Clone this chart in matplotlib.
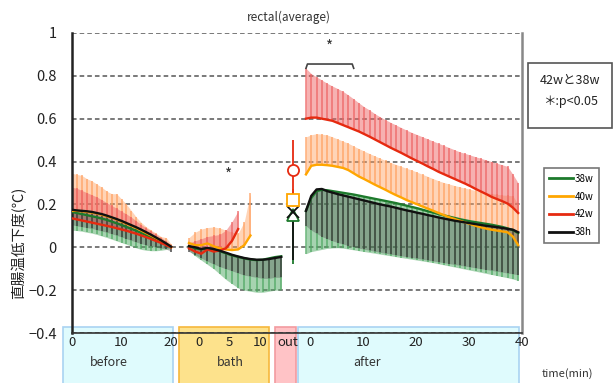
import numpy as np
import matplotlib
matplotlib.use('Agg')
import matplotlib.pyplot as plt
import matplotlib.transforms as mtransforms
from matplotlib.patches import Rectangle
from matplotlib.lines import Line2D

plt.rcParams['font.family'] = ['Noto Sans CJK JP', 'DejaVu Sans']

# minutes within each phase
t_before = list(range(0, 21))
t_bath = list(range(0, 16))
t_after = list(range(0, 41))

# ---- before bath (mean, end of error bar) ----
before_38w = [0.165, 0.16, 0.155, 0.15, 0.145, 0.14, 0.134, 0.128, 0.12, 0.112, 0.104,
              0.095, 0.086, 0.077, 0.067, 0.057, 0.047, 0.036, 0.025, 0.013, 0.0]
before_38w_err = [0.08, 0.078, 0.075, 0.07, 0.066, 0.06, 0.053, 0.046, 0.038, 0.03, 0.022,
                  0.014, 0.005, -0.003, -0.01, -0.014, -0.016, -0.016, -0.014, -0.01, -0.005]
before_40w = [0.17, 0.17, 0.168, 0.165, 0.162, 0.158, 0.152, 0.145, 0.138, 0.13, 0.12,
              0.11, 0.1, 0.09, 0.078, 0.066, 0.054, 0.042, 0.03, 0.016, 0.0]
before_40w_err = [0.345, 0.34, 0.335, 0.32, 0.31, 0.295, 0.28, 0.262, 0.25, 0.25, 0.225,
                  0.2, 0.17, 0.14, 0.115, 0.095, 0.08, 0.065, 0.05, 0.045, 0.015]
before_42w = [0.135, 0.13, 0.125, 0.12, 0.115, 0.11, 0.105, 0.1, 0.095, 0.089, 0.083,
              0.077, 0.07, 0.063, 0.055, 0.047, 0.038, 0.029, 0.02, 0.01, 0.0]
before_42w_err = [0.28, 0.275, 0.265, 0.255, 0.245, 0.235, 0.222, 0.208, 0.195, 0.182, 0.168,
                  0.155, 0.14, 0.123, 0.105, 0.09, 0.075, 0.06, 0.045, 0.03, 0.01]
before_38h = [0.175, 0.172, 0.17, 0.168, 0.165, 0.16, 0.155, 0.148, 0.14, 0.132, 0.123,
              0.113, 0.103, 0.093, 0.082, 0.07, 0.058, 0.045, 0.032, 0.018, 0.003]
before_38h_err = [0.105, 0.1, 0.096, 0.092, 0.088, 0.082, 0.076, 0.07, 0.063, 0.056, 0.048,
                  0.04, 0.032, 0.024, 0.017, 0.01, 0.005, 0.0, -0.004, -0.008, -0.02]

# ---- bath ----
bath_38w = [0.005, -0.005, -0.01, -0.005, -0.01, -0.018, -0.028, -0.038, -0.045, -0.052,
            -0.057, -0.06, -0.058, -0.052, -0.046, -0.042]
bath_38w_err = [-0.015, -0.04, -0.06, -0.08, -0.1, -0.125, -0.15, -0.17, -0.19, -0.2,
                -0.205, -0.21, -0.21, -0.205, -0.2, -0.2]
bath_40w = [0.02, 0.01, 0.01, 0.018, 0.005, -0.005, -0.01, -0.013, -0.01, 0.01, 0.055]
bath_40w_err = [0.045, 0.07, 0.085, 0.092, 0.095, 0.09, 0.08, 0.07, 0.065, 0.12, 0.255]
bath_42w = [-0.005, -0.02, -0.03, -0.01, -0.02, -0.015, -0.005, 0.03, 0.085]
bath_42w_err = [0.02, 0.03, 0.04, 0.05, 0.055, 0.06, 0.08, 0.12, 0.17]
bath_38h = [0.005, 0.0, -0.008, -0.003, -0.008, -0.016, -0.025, -0.035, -0.043, -0.05,
            -0.055, -0.058, -0.058, -0.055, -0.05, -0.045]
bath_38h_err = [-0.02, -0.035, -0.05, -0.065, -0.078, -0.09, -0.1, -0.11, -0.12, -0.13,
                -0.135, -0.14, -0.145, -0.145, -0.14, -0.14]

# ---- out of bath (single point) ----
out_mean = {'38w': 0.15, '40w': 0.22, '42w': 0.36, '38h': 0.165}
out_err_lo = {'38w': -0.08, '40w': 0.19, '42w': 0.22, '38h': -0.06}
out_err_hi = {'38w': 0.15, '40w': 0.27, '42w': 0.50, '38h': 0.165}

# ---- after bath ----
after_38w = [0.17, 0.23, 0.262, 0.268, 0.266, 0.262, 0.258, 0.254, 0.25, 0.246, 0.241,
             0.236, 0.231, 0.226, 0.221, 0.216, 0.211, 0.206, 0.2, 0.194, 0.188,
             0.182, 0.175, 0.168, 0.162, 0.155, 0.149, 0.143, 0.137, 0.131, 0.126,
             0.121, 0.117, 0.113, 0.109, 0.105, 0.1, 0.095, 0.088, 0.08, 0.066]
after_38w_err = [-0.03, -0.02, -0.015, -0.01, -0.005, -0.003, -0.002, -0.004, -0.008, -0.012,
                 -0.016, -0.02, -0.024, -0.028, -0.032, -0.036, -0.04, -0.044, -0.048, -0.052,
                 -0.056, -0.06, -0.064, -0.068, -0.072, -0.077, -0.082, -0.087, -0.092, -0.097,
                 -0.102, -0.107, -0.112, -0.117, -0.122, -0.127, -0.132, -0.137, -0.142, -0.148,
                 -0.155]
after_40w = [0.34, 0.38, 0.385, 0.385, 0.383, 0.38, 0.375, 0.37, 0.36, 0.345, 0.33,
             0.318, 0.305, 0.292, 0.28, 0.268, 0.255, 0.243, 0.232, 0.22, 0.21,
             0.2, 0.19, 0.18, 0.17, 0.16, 0.15, 0.14, 0.132, 0.124, 0.116,
             0.108, 0.1, 0.093, 0.087, 0.082, 0.078, 0.074, 0.07, 0.05, 0.01]
after_40w_err = [0.515, 0.525, 0.53, 0.528, 0.524, 0.515, 0.505, 0.495, 0.485, 0.472, 0.46,
                 0.448, 0.437, 0.426, 0.415, 0.405, 0.395, 0.386, 0.377, 0.368, 0.36,
                 0.35, 0.34, 0.33, 0.32, 0.31, 0.302, 0.295, 0.288, 0.282, 0.276,
                 0.27, 0.265, 0.26, 0.255, 0.25, 0.247, 0.244, 0.242, 0.24, 0.2]
after_42w = [0.60, 0.605, 0.605, 0.60, 0.595, 0.59, 0.58, 0.57, 0.56, 0.55, 0.54,
             0.528, 0.516, 0.503, 0.49, 0.477, 0.464, 0.452, 0.44, 0.427, 0.414,
             0.402, 0.39, 0.377, 0.365, 0.352, 0.341, 0.33, 0.319, 0.308, 0.297,
             0.285, 0.272, 0.26, 0.248, 0.235, 0.225, 0.215, 0.204, 0.185, 0.16]
after_42w_err = [0.835, 0.81, 0.795, 0.78, 0.765, 0.752, 0.74, 0.727, 0.71, 0.692, 0.673,
                 0.655, 0.64, 0.623, 0.608, 0.595, 0.582, 0.57, 0.558, 0.546, 0.535,
                 0.525, 0.515, 0.505, 0.495, 0.485, 0.475, 0.465, 0.455, 0.445, 0.438,
                 0.43, 0.422, 0.415, 0.407, 0.4, 0.392, 0.385, 0.377, 0.34, 0.3]
after_38h = [0.17, 0.24, 0.27, 0.272, 0.262, 0.255, 0.248, 0.242, 0.236, 0.23, 0.224,
             0.218, 0.212, 0.206, 0.2, 0.195, 0.19, 0.184, 0.178, 0.172, 0.167,
             0.161, 0.156, 0.15, 0.145, 0.139, 0.134, 0.129, 0.124, 0.12, 0.116,
             0.112, 0.108, 0.104, 0.1, 0.097, 0.094, 0.09, 0.086, 0.082, 0.07]
after_38h_err = [0.1, 0.08, 0.065, 0.05, 0.04, 0.03, 0.022, 0.015, 0.008, 0.002, -0.004,
                 -0.009, -0.014, -0.019, -0.024, -0.028, -0.032, -0.036, -0.04, -0.044, -0.048,
                 -0.052, -0.056, -0.06, -0.064, -0.068, -0.072, -0.076, -0.08, -0.084, -0.088,
                 -0.092, -0.096, -0.1, -0.104, -0.108, -0.112, -0.116, -0.12, -0.124, -0.128]

series_names = ['38w', '40w', '42w', '38h']
line_colors = {'38w': '#1d7a2c', '40w': '#ffa600', '42w': '#e62a10', '38h': '#111111'}
band_colors = {'38w': '#4fa862', '40w': '#ffa060', '42w': '#ee6464', '38h': '#3a3a3a'}
band_alpha = {'38w': 0.5, '40w': 0.45, '42w': 0.5, '38h': 0.3}

# phase -> (x offset, x units per minute) on a shared axis
segments = {'before': (0.0, 1.0), 'bath': (23.6, 1.24), 'after': (47.2, 1.07)}
out_x = 44.6

before_ticks = [0, 10, 20]
bath_ticks = [0, 5, 10]
after_ticks = [0, 10, 20, 30, 40]


def seg_x(phase, t):
    off, scale = segments[phase]
    return off + scale * np.asarray(t, dtype=float)


def draw_phase(ax, phase, t_all, data):
    # error bars first, then mean lines on top
    for name in series_names:
        mean, err = data[name]
        x = seg_x(phase, t_all[:len(mean)])
        ax.fill_between(x, mean, err, color=band_colors[name], alpha=band_alpha[name], lw=0, zorder=2)
        ax.vlines(x, mean, err, color=band_colors[name], lw=1.1, alpha=0.85, zorder=2)
    for name in series_names:
        mean, _ = data[name]
        x = seg_x(phase, t_all[:len(mean)])
        ax.plot(x, mean, color=line_colors[name], lw=1.7, zorder=3)


fig = plt.figure(figsize=(6.15, 3.83), dpi=100)
ax = fig.add_axes([0.117, 0.1305, 0.732, 0.7835])

draw_phase(ax, 'before', t_before, {'38w': (before_38w, before_38w_err),
                                    '40w': (before_40w, before_40w_err),
                                    '42w': (before_42w, before_42w_err),
                                    '38h': (before_38h, before_38h_err)})
draw_phase(ax, 'bath', t_bath, {'38w': (bath_38w, bath_38w_err),
                                '40w': (bath_40w, bath_40w_err),
                                '42w': (bath_42w, bath_42w_err),
                                '38h': (bath_38h, bath_38h_err)})
draw_phase(ax, 'after', t_after, {'38w': (after_38w, after_38w_err),
                                  '40w': (after_40w, after_40w_err),
                                  '42w': (after_42w, after_42w_err),
                                  '38h': (after_38h, after_38h_err)})

# out-of-bath points
markers = {'38w': '^', '40w': 's', '42w': 'o', '38h': 'x'}
for name in ['38w', '38h', '40w', '42w']:
    ax.vlines(out_x, out_err_lo[name], out_err_hi[name], color=line_colors[name], lw=1.3, zorder=4)
for name in ['38w', '38h', '40w', '42w']:
    ax.plot(out_x, out_mean[name], marker=markers[name], ms=8, mfc='white' if name != '38h' else 'none',
            mec=line_colors[name], mew=1.3, color=line_colors[name], zorder=5)

# significance marks
bx0, bx1 = seg_x('after', 0), seg_x('after', 9)
ax.plot([bx0, bx0 + 0.3, bx1 - 0.3, bx1], [0.835, 0.855, 0.855, 0.835], color='#444444', lw=1.2,
        clip_on=False, zorder=6)
ax.text((bx0 + bx1) / 2, 0.935, '*', ha='center', va='center', fontsize=11, color='#333333')
ax.text(seg_x('bath', 6.5), 0.335, '*', ha='center', va='center', fontsize=11, color='#333333')

# axes styling
ax.set_xlim(0, 90)
ax.set_ylim(-0.4, 1.0)
yt = [-0.4, -0.2, 0, 0.2, 0.4, 0.6, 0.8, 1.0]
ax.set_yticks(yt, ['\u22120.4', '\u22120.2', '0', '0.2', '0.4', '0.6', '0.8', '1'])
ax.tick_params(axis='y', length=0, pad=11, labelsize=10.5, labelcolor='#222222')
for y in yt:
    ax.axhline(y, color='#555555', lw=1.1, ls=(0, (3, 2)), zorder=1)

xt_pos = list(seg_x('before', before_ticks)) + list(seg_x('bath', bath_ticks) + 2.0) \
    + [out_x - 1.0] + list(seg_x('after', after_ticks) + 0.8)
xt_lab = [str(v) for v in before_ticks] + [str(v) for v in bath_ticks] + ['out'] \
    + [str(v) for v in after_ticks]
ax.set_xticks(xt_pos, xt_lab)
ax.tick_params(axis='x', length=0, pad=2, labelsize=9.5, labelcolor='#222222')

ax.spines['top'].set_visible(False)
ax.spines['left'].set_linewidth(1.8)
ax.spines['left'].set_color('#222222')
ax.spines['right'].set_linewidth(1.8)
ax.spines['right'].set_color('#888888')
ax.spines['bottom'].set_linewidth(1.2)
ax.spines['bottom'].set_color('#333333')

# phase boxes under the axis
trans = mtransforms.blended_transform_factory(ax.transData, ax.transAxes)
phase_boxes = [(-1.8, 20.4, '#dffbfd', '#a9d3f2', 'before', 7.4),
               (21.6, 39.8, '#fde28c', '#f6b73c', 'bath', 32.0),
               (41.0, 45.2, '#ffc3c6', '#f29ba0', None, None),
               (45.6, 90.2, '#dffbfd', '#a9d3f2', 'after', 59.6)]
for x0, x1, fc, ec, label, lx in phase_boxes:
    ax.add_patch(Rectangle((x0, -0.175), x1 - x0, 0.195, transform=trans, facecolor=fc,
                           edgecolor=ec, lw=1.2, clip_on=False, zorder=0.5))
    if label:
        ax.text(lx, -0.097, label, transform=trans, ha='center', va='center', fontsize=9,
                color='#333333')

fig.text(0.47, 0.955, 'rectal(average)', ha='center', va='center', fontsize=8.5, color='#333333')
fig.text(0.03, 0.365, '直腸温低下度(℃)', rotation=90, ha='center', va='center', fontsize=10.5,
         color='#222222')
fig.text(0.922, 0.026, 'time(min)', ha='center', va='center', fontsize=8, color='#333333')

# note box
fig.patches.append(Rectangle((0.8585, 0.666), 0.1366, 0.17, transform=fig.transFigure,
                             facecolor='white', edgecolor='#555555', lw=1.2))
fig.text(0.927, 0.789, '42wと38w', ha='center', va='center', fontsize=9, color='#222222')
fig.text(0.927, 0.736, '＊:p<0.05', ha='center', va='center', fontsize=9, color='#222222')

handles = [Line2D([], [], color=line_colors[n], lw=2) for n in series_names]
leg = fig.legend(handles, series_names, loc='upper left', bbox_to_anchor=(0.876, 0.574),
                 fontsize=7, frameon=True, fancybox=False, handlelength=2.4,
                 labelspacing=0.8, borderpad=0.6, handletextpad=0.2)
leg.get_frame().set_edgecolor('#555555')
leg.get_frame().set_linewidth(1.2)

fig.savefig('out.png', dpi=100)
